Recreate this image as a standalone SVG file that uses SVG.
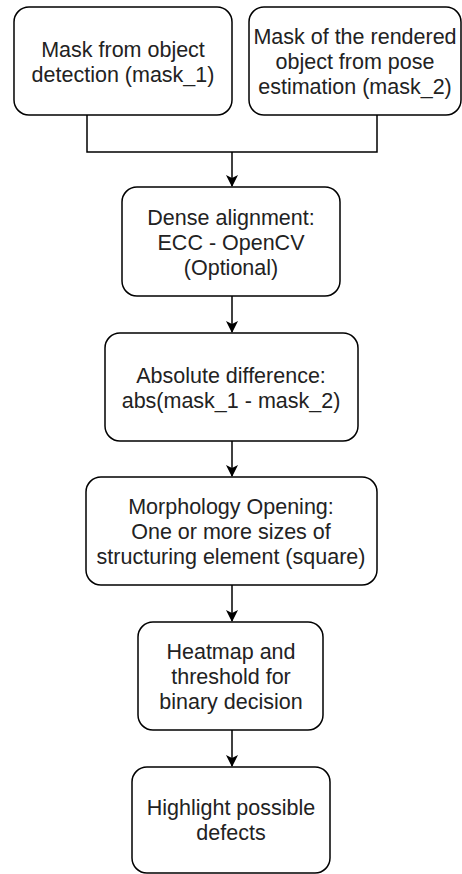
<svg xmlns="http://www.w3.org/2000/svg" width="462" height="874" viewBox="0 0 462 874">
<style>
.box{fill:#fff;stroke:#000;stroke-width:1.5}
.t{font-family:"Liberation Sans",Arial,sans-serif;font-size:21.5px;fill:#222;text-anchor:middle}
.c{fill:none;stroke:#000;stroke-width:1.5}
</style>
<defs>
<marker id="ar" markerWidth="12" markerHeight="12" refX="11" refY="6" orient="auto" markerUnits="userSpaceOnUse">
<path d="M0,0 L12,6 L0,12 L3,6 Z" fill="#000"/>
</marker>
</defs>
<rect width="462" height="874" fill="#fff"/>
<g id="connectors">
<path class="c" d="M87,115 V152 H377 V115"/>
<path class="c" d="M232,152 V186" marker-end="url(#ar)"/>
<path class="c" d="M232,296 V332" marker-end="url(#ar)"/>
<path class="c" d="M232,441 V476" marker-end="url(#ar)"/>
<path class="c" d="M232,585 V621" marker-end="url(#ar)"/>
<path class="c" d="M232,730 V766" marker-end="url(#ar)"/>
</g>
<g id="n1"><rect class="box" x="14" y="7" width="218" height="108" rx="15"/>
<text class="t"><tspan x="123" y="57">Mask from object</tspan><tspan x="123" y="82">detection (mask_1)</tspan></text></g>
<g id="n2"><rect class="box" x="249" y="7" width="212" height="108" rx="15"/>
<text class="t"><tspan x="355" y="44">Mask of the rendered</tspan><tspan x="355" y="69">object from pose</tspan><tspan x="355" y="94">estimation (mask_2)</tspan></text></g>
<g id="n3"><rect class="box" x="122" y="187" width="218" height="109" rx="15"/>
<text class="t"><tspan x="231" y="225">Dense alignment:</tspan><tspan x="231" y="250">ECC - OpenCV</tspan><tspan x="231" y="275">(Optional)</tspan></text></g>
<g id="n4"><rect class="box" x="105" y="333" width="253" height="108" rx="15"/>
<text class="t"><tspan x="231" y="383">Absolute difference:</tspan><tspan x="231" y="408">abs(mask_1 - mask_2)</tspan></text></g>
<g id="n5"><rect class="box" x="86" y="477" width="291" height="108" rx="15"/>
<text class="t"><tspan x="231" y="514">Morphology Opening:</tspan><tspan x="231" y="539">One or more sizes of</tspan><tspan x="231" y="564">structuring element (square)</tspan></text></g>
<g id="n6"><rect class="box" x="138" y="622" width="185" height="108" rx="15"/>
<text class="t"><tspan x="231" y="659">Heatmap and</tspan><tspan x="231" y="684">threshold for</tspan><tspan x="231" y="709">binary decision</tspan></text></g>
<g id="n7"><rect class="box" x="132" y="767" width="198" height="106" rx="15"/>
<text class="t"><tspan x="231" y="815">Highlight possible</tspan><tspan x="231" y="840">defects</tspan></text></g>
</svg>
